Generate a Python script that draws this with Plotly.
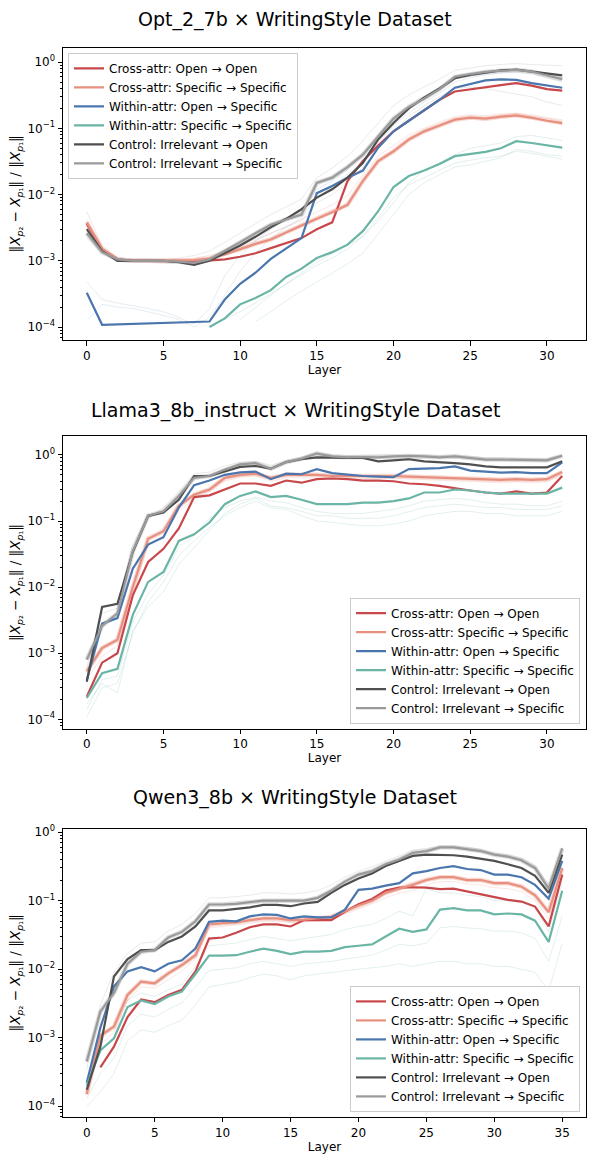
import plotly.graph_objects as go

# ---------------- data ----------------
layers_opt = list(range(32))
layers_llama = list(range(32))
layers_qwen = list(range(36))

series_labels = [
    "Cross-attr: Open → Open",
    "Cross-attr: Specific → Specific",
    "Within-attr: Open → Specific",
    "Within-attr: Specific → Specific",
    "Control: Irrelevant → Open",
    "Control: Irrelevant → Specific",
]
panel_titles = [
    "Opt_2_7b × WritingStyle Dataset",
    "Llama3_8b_instruct × WritingStyle Dataset",
    "Qwen3_8b × WritingStyle Dataset",
]
x_tick_vals = [0, 5, 10, 15, 20, 25, 30]
x_tick_vals_qwen = [0, 5, 10, 15, 20, 25, 30, 35]
y_tick_vals = [1e-4, 1e-3, 1e-2, 1e-1, 1e0]
y_tick_text = ["10<sup>−4</sup>", "10<sup>−3</sup>", "10<sup>−2</sup>", "10<sup>−1</sup>", "10<sup>0</sup>"]

# --- Opt_2_7b ---
opt_cross_open = [3.6e-3, 1.5e-3, 1.05e-3, 1.0e-3, 1.0e-3, 1.0e-3, 0.98e-3, 0.97e-3, 1.0e-3, 1.05e-3, 1.15e-3, 1.3e-3,
                  1.55e-3, 1.85e-3, 2.2e-3, 3.0e-3, 3.8e-3, 1.6e-2, 3.2e-2, 5.5e-2, 9.0e-2, 0.13, 0.19, 0.27, 0.36,
                  0.39, 0.42, 0.45, 0.48, 0.44, 0.39, 0.37]
opt_cross_spec = [3.8e-3, 1.5e-3, 1.05e-3, 1.0e-3, 1.0e-3, 1.0e-3, 1.0e-3, 1.02e-3, 1.08e-3, 1.25e-3, 1.5e-3, 1.8e-3,
                  2.1e-3, 2.7e-3, 3.4e-3, 4.3e-3, 5.4e-3, 7.0e-3, 1.6e-2, 3.2e-2, 4.5e-2, 6.8e-2, 9.0e-2, 0.11, 0.135,
                  0.145, 0.14, 0.15, 0.157, 0.145, 0.13, 0.12]
opt_within_open = [3.3e-4, 1.08e-4, None, None, None, None, None, None, 1.21e-4, 2.6e-4, 4.5e-4, 6.6e-4, 1.07e-3,
                   1.55e-3, 2.2e-3, 1.05e-2, 1.35e-2, 1.8e-2, 2.3e-2, 5.1e-2, 9.0e-2, 0.13, 0.19, 0.27, 0.41, 0.47,
                   0.53, 0.55, 0.54, 0.48, 0.44, 0.41]
opt_within_spec = [None, None, None, None, None, None, None, None, 1.0e-4, 1.35e-4, 2.2e-4, 2.75e-4, 3.6e-4, 5.7e-4,
                   7.6e-4, 1.1e-3, 1.35e-3, 1.75e-3, 2.8e-3, 5.6e-3, 1.3e-2, 1.9e-2, 2.3e-2, 2.9e-2, 3.8e-2, 4.1e-2,
                   4.4e-2, 5.0e-2, 6.4e-2, 6.0e-2, 5.5e-2, 5.1e-2]
opt_ctrl_open = [3.0e-3, 1.4e-3, 1.0e-3, 1.0e-3, 1.0e-3, 1.0e-3, 0.95e-3, 0.87e-3, 1.0e-3, 1.3e-3, 1.7e-3, 2.3e-3,
                 3.2e-3, 4.3e-3, 6.0e-3, 9.0e-3, 1.2e-2, 1.8e-2, 3.0e-2, 6.8e-2, 0.12, 0.2, 0.29, 0.40, 0.57, 0.64,
                 0.70, 0.75, 0.77, 0.72, 0.66, 0.63]
opt_ctrl_spec = [2.6e-3, 1.35e-3, 1.05e-3, 1.0e-3, 1.0e-3, 1.0e-3, 0.97e-3, 0.93e-3, 1.05e-3, 1.4e-3, 1.9e-3, 2.6e-3,
                 3.5e-3, 4.2e-3, 5.0e-3, 1.5e-2, 1.8e-2, 2.6e-2, 4.0e-2, 7.5e-2, 0.14, 0.21, 0.28, 0.39, 0.60, 0.66,
                 0.71, 0.74, 0.76, 0.72, 0.63, 0.55]
opt_bg_gray_a = [5.5e-3, 1.7e-3, 1.1e-3, 1.0e-3, 1.0e-3, 1.05e-3, 1.1e-3, 1.2e-3, 1.4e-3, 1.9e-3, 2.6e-3, 3.6e-3,
                 5.0e-3, 6.5e-3, 8.5e-3, 1.8e-2, 2.5e-2, 3.8e-2, 6.5e-2, 0.12, 0.22, 0.32, 0.42, 0.55, 0.75, 0.82,
                 0.88, 0.92, 0.95, 0.92, 0.90, 0.88]
opt_bg_gray_b = [2.2e-3, 1.3e-3, 1.0e-3, 1.0e-3, 1.0e-3, 1.0e-3, 1.0e-3, 1.0e-3, 1.1e-3, 1.3e-3, 1.6e-3, 2.0e-3,
                 2.6e-3, 3.2e-3, 4.0e-3, 7.5e-3, 1.0e-2, 1.5e-2, 2.6e-2, 5.0e-2, 9.0e-2, 0.15, 0.22, 0.30, 0.40, 0.42,
                 0.40, 0.36, 0.33, 0.30, 0.25, 0.22]
opt_bg_blue_a = [4.8e-4, 2.6e-4, 2.3e-4, 2.1e-4, 1.9e-4, 1.7e-4, 1.4e-4, 1.1e-4, 1.9e-4, 6.0e-4, 1.2e-3, 2.0e-3,
                 3.0e-3, 4.2e-3, 5.5e-3, 1.2e-2, 1.6e-2, 2.4e-2, 3.8e-2, 7.0e-2, 0.13, 0.2, 0.28, 0.38, 0.55, 0.62,
                 0.68, 0.72, 0.74, 0.70, 0.62, 0.58]
opt_bg_blue_b = [1.25e-4, 2.2e-4, 2.0e-4, 1.9e-4, 1.7e-4, 1.5e-4, 1.3e-4, 1.0e-4, 1.4e-4, 3.0e-4, 7.0e-4, 1.3e-3,
                 2.2e-3, 3.2e-3, 4.5e-3, 9.0e-3, 1.3e-2, 2.0e-2, 3.2e-2, 6.0e-2, 0.11, 0.17, 0.25, 0.34, 0.50, 0.58,
                 0.64, 0.68, 0.70, 0.66, 0.58, 0.50]
opt_bg_teal_a = [None, None, None, None, None, None, None, None, None, 1.3e-4, 1.7e-4, 2.3e-4, 3.2e-4, 4.5e-4, 6.2e-4,
                 8.5e-4, 1.1e-3, 1.5e-3, 2.4e-3, 4.5e-3, 9.0e-3, 1.4e-2, 1.8e-2, 2.3e-2, 3.0e-2, 3.3e-2, 3.6e-2,
                 3.8e-2, 4.5e-2, 4.2e-2, 3.8e-2, 3.4e-2]
opt_bg_teal_b = [None, None, None, None, None, None, None, None, None, None, 1.3e-4, 2.0e-4, 3.0e-4, 4.5e-4, 6.5e-4,
                 9.5e-4, 1.3e-3, 1.7e-3, 2.3e-3, 4.0e-3, 7.5e-3, 1.5e-2, 2.3e-2, 3.0e-2, 4.0e-2, 5.0e-2, 5.5e-2,
                 6.0e-2, 7.5e-2, 7.8e-2, 7.2e-2, 6.5e-2]
opt_bg_teal_c = [None, None, None, None, None, None, None, None, None, None, None, 1.2e-4, 1.7e-4, 2.5e-4, 3.5e-4,
                 4.8e-4, 6.5e-4, 9.0e-4, 1.3e-3, 2.5e-3, 5.0e-3, 1.0e-2, 1.5e-2, 2.0e-2, 2.6e-2, 2.8e-2, 3.2e-2,
                 3.6e-2, 4.8e-2, 4.5e-2, 4.0e-2, 3.8e-2]
opt_bg_salmon = [4.2e-3, 1.6e-3, 1.1e-3, 1.0e-3, 1.0e-3, 1.0e-3, 1.05e-3, 1.1e-3, 1.2e-3, 1.4e-3, 1.7e-3, 2.1e-3,
                 2.6e-3, 3.3e-3, 4.2e-3, 5.5e-3, 7.0e-3, 9.5e-3, 2.0e-2, 3.8e-2, 5.5e-2, 8.0e-2, 0.10, 0.125, 0.15,
                 0.16, 0.155, 0.165, 0.17, 0.16, 0.145, 0.135]

# --- Llama3_8b_instruct ---
llama_cross_open = [2.2e-4, 7.2e-4, 1.0e-3, 7.5e-3, 2.4e-2, 3.8e-2, 7.7e-2, 0.23, 0.245, 0.30, 0.37, 0.37, 0.34,
                    0.41, 0.38, 0.43, 0.44, 0.43, 0.41, 0.41, 0.40, 0.37, 0.36, 0.34, 0.31, 0.29, 0.27, 0.26, 0.28,
                    0.26, 0.27, 0.48]
llama_cross_spec = [5.3e-4, 1.2e-3, 1.6e-3, 1.0e-2, 5.4e-2, 7.0e-2, 0.17, 0.25, 0.30, 0.45, 0.50, 0.52, 0.45, 0.50,
                    0.50, 0.50, 0.48, 0.48, 0.49, 0.48, 0.48, 0.47, 0.46, 0.45, 0.44, 0.43, 0.42, 0.42, 0.43, 0.42,
                    0.43, 0.55]
llama_within_open = [3.9e-4, 2.8e-3, 3.4e-3, 1.9e-2, 4.4e-2, 5.7e-2, 0.16, 0.35, 0.41, 0.50, 0.545, 0.56, 0.43,
                     0.52, 0.51, 0.61, 0.53, 0.50, 0.48, 0.47, 0.46, 0.61, 0.62, 0.63, 0.67, 0.58, 0.56, 0.54, 0.55,
                     0.53, 0.53, 0.77]
llama_within_spec = [2.1e-4, 5.0e-4, 5.8e-4, 3.8e-3, 1.2e-2, 1.7e-2, 5.0e-2, 6.3e-2, 9.5e-2, 0.18, 0.24, 0.28, 0.23,
                     0.24, 0.21, 0.18, 0.18, 0.18, 0.19, 0.19, 0.20, 0.22, 0.27, 0.27, 0.30, 0.29, 0.27, 0.26, 0.26,
                     0.26, 0.26, 0.32]
llama_ctrl_open = [3.7e-4, 5.0e-3, 5.6e-3, 3.4e-2, 0.12, 0.135, 0.21, 0.48, 0.48, 0.56, 0.66, 0.68, 0.62, 0.78, 0.86,
                   0.92, 0.90, 0.90, 0.90, 0.80, 0.83, 0.86, 0.80, 0.78, 0.75, 0.72, 0.67, 0.65, 0.65, 0.65, 0.65,
                   0.80]
llama_ctrl_spec = [8.0e-4, 2.6e-3, 4.0e-3, 3.5e-2, 0.12, 0.14, 0.24, 0.45, 0.48, 0.60, 0.72, 0.75, 0.62, 0.78, 0.88,
                   1.05, 0.95, 0.92, 0.93, 0.92, 0.95, 0.97, 0.95, 0.92, 0.95, 0.90, 0.85, 0.85, 0.85, 0.83, 0.83,
                   0.97]
llama_bg_teal_a = [1.1e-4, 3.0e-4, 3.5e-4, 2.0e-3, 6.0e-3, 1.2e-2, 3.0e-2, 5.0e-2, 8.0e-2, 0.12, 0.16, 0.20, 0.16,
                   0.15, 0.12, 0.10, 0.095, 0.09, 0.085, 0.085, 0.09, 0.10, 0.12, 0.13, 0.14, 0.14, 0.13, 0.13, 0.12,
                   0.12, 0.12, 0.14]
llama_bg_teal_b = [1.4e-4, 4.0e-4, 4.5e-4, 3.0e-3, 8.0e-3, 1.5e-2, 4.0e-2, 6.0e-2, 0.11, 0.16, 0.20, 0.23, 0.20,
                   0.19, 0.16, 0.14, 0.13, 0.13, 0.13, 0.14, 0.15, 0.17, 0.20, 0.21, 0.22, 0.21, 0.19, 0.18, 0.18,
                   0.17, 0.17, 0.20]
llama_bg_teal_c = [1.7e-4, 3.5e-4, 2.5e-4, 2.2e-3, 5.0e-3, 8.5e-3, 2.2e-2, 4.0e-2, 7.0e-2, 0.13, 0.18, 0.22, 0.17,
                   0.16, 0.14, 0.12, 0.12, 0.11, 0.11, 0.11, 0.12, 0.14, 0.16, 0.17, 0.18, 0.17, 0.16, 0.16, 0.15,
                   0.15, 0.15, 0.17]
llama_bg_gray = [6.0e-4, 4.0e-3, 4.8e-3, 4.5e-2, 0.11, 0.16, 0.28, 0.52, 0.55, 0.68, 0.78, 0.80, 0.70, 0.82, 0.92,
                 1.1, 1.0, 0.98, 0.99, 1.0, 1.02, 1.03, 1.0, 0.98, 1.0, 0.95, 0.90, 0.90, 0.90, 0.88, 0.87, 1.0]
llama_bg_salmon = [4.0e-4, 9.0e-4, 1.3e-3, 8.0e-3, 4.5e-2, 6.0e-2, 0.14, 0.22, 0.28, 0.40, 0.46, 0.48, 0.40, 0.45,
                   0.45, 0.45, 0.44, 0.44, 0.45, 0.44, 0.44, 0.43, 0.42, 0.41, 0.40, 0.39, 0.38, 0.38, 0.39, 0.38,
                   0.39, 0.50]

# --- Qwen3_8b ---
qwen_cross_open = [None, 3.7e-4, 7.4e-4, 2.0e-3, 3.6e-3, 3.3e-3, 4.2e-3, 5.0e-3, 9.3e-3, 2.8e-2, 2.9e-2, 3.4e-2,
                   4.1e-2, 4.5e-2, 4.5e-2, 4.2e-2, 5.2e-2, 5.2e-2, 5.2e-2, 6.9e-2, 8.9e-2, 0.106, 0.14, 0.155, 0.157,
                   0.155, 0.147, 0.15, 0.136, 0.125, 0.112, 0.103, 0.097, 0.082, 4.2e-2, 0.24]
qwen_cross_spec = [1.5e-4, 1.07e-3, 1.45e-3, 4.2e-3, 6.6e-3, 6.2e-3, 8.7e-3, 1.15e-2, 1.6e-2, 4.5e-2, 4.7e-2, 4.8e-2,
                   5.2e-2, 5.5e-2, 5.5e-2, 5.2e-2, 5.3e-2, 5.5e-2, 5.8e-2, 7.0e-2, 8.5e-2, 0.10, 0.13, 0.15, 0.17,
                   0.20, 0.22, 0.22, 0.20, 0.20, 0.18, 0.18, 0.16, 0.12, 6.8e-2, 0.30]
qwen_within_open = [2.2e-4, 1.4e-3, 5.6e-3, 9.3e-3, 1.07e-2, 9.3e-3, 1.2e-2, 1.35e-2, 2.0e-2, 4.9e-2, 5.1e-2, 5.0e-2,
                    5.9e-2, 6.3e-2, 6.2e-2, 5.5e-2, 5.9e-2, 5.7e-2, 5.7e-2, 7.4e-2, 0.144, 0.15, 0.166, 0.18, 0.25,
                    0.27, 0.30, 0.32, 0.29, 0.28, 0.24, 0.24, 0.22, 0.17, 0.107, 0.38]
qwen_within_spec = [2.0e-4, 6.5e-4, 9.8e-4, 2.8e-3, 3.5e-3, 3.1e-3, 4.0e-3, 4.7e-3, 8.5e-3, 1.58e-2, 1.58e-2, 1.6e-2,
                    1.8e-2, 2.0e-2, 1.85e-2, 1.66e-2, 1.8e-2, 1.8e-2, 1.85e-2, 2.1e-2, 2.2e-2, 2.3e-2, 3.0e-2, 3.9e-2,
                    3.5e-2, 3.8e-2, 7.4e-2, 7.8e-2, 7.2e-2, 7.2e-2, 6.3e-2, 6.5e-2, 6.3e-2, 5.1e-2, 2.5e-2, 0.14]
qwen_ctrl_open = [1.74e-4, 7.4e-4, 7.8e-3, 1.4e-2, 1.9e-2, 1.9e-2, 2.5e-2, 3.0e-2, 4.2e-2, 7.2e-2, 7.2e-2, 7.5e-2,
                  8.0e-2, 8.7e-2, 8.7e-2, 8.3e-2, 9.1e-2, 9.6e-2, 0.13, 0.17, 0.21, 0.25, 0.32, 0.38, 0.45, 0.47, 0.47,
                  0.46, 0.44, 0.41, 0.38, 0.34, 0.30, 0.23, 0.13, 0.47]
qwen_ctrl_spec = [4.5e-4, 2.4e-3, 4.5e-3, 1.2e-2, 1.8e-2, 1.9e-2, 2.9e-2, 3.5e-2, 5.0e-2, 8.8e-2, 8.8e-2, 9.0e-2,
                  9.5e-2, 0.10, 0.10, 0.10, 0.10, 0.11, 0.14, 0.19, 0.24, 0.27, 0.34, 0.40, 0.50, 0.53, 0.60, 0.60,
                  0.57, 0.53, 0.47, 0.44, 0.39, 0.30, 0.15, 0.58]
qwen_bg_teal_a = [1.0e-4, 1.6e-4, 3.0e-4, 9.0e-4, 1.3e-3, 1.2e-3, 1.5e-3, 1.8e-3, 3.0e-3, 5.5e-3, 6.0e-3, 6.5e-3,
                  7.5e-3, 8.5e-3, 8.0e-3, 7.0e-3, 8.0e-3, 8.5e-3, 9.0e-3, 9.5e-3, 1.0e-2, 1.05e-2, 1.1e-2, 1.2e-2,
                  1.1e-2, 1.2e-2, 1.3e-2, 1.3e-2, 1.2e-2, 1.2e-2, 1.1e-2, 1.1e-2, 1.0e-2, 9.0e-3, 4.8e-3, 2.4e-2]
qwen_bg_teal_b = [1.3e-4, 3.0e-4, 5.0e-4, 1.5e-3, 2.2e-3, 2.0e-3, 2.6e-3, 3.2e-3, 5.5e-3, 9.5e-3, 1.0e-2, 1.05e-2,
                  1.2e-2, 1.3e-2, 1.2e-2, 1.1e-2, 1.2e-2, 1.25e-2, 1.3e-2, 1.4e-2, 1.5e-2, 1.6e-2, 1.9e-2, 2.3e-2,
                  2.2e-2, 2.4e-2, 4.0e-2, 4.2e-2, 4.0e-2, 3.9e-2, 3.6e-2, 3.6e-2, 3.4e-2, 2.8e-2, 1.3e-2, 6.0e-2]
qwen_bg_teal_c = [2.5e-4, 9.0e-4, 1.5e-3, 3.5e-3, 4.5e-3, 4.0e-3, 5.0e-3, 6.0e-3, 1.1e-2, 2.2e-2, 2.3e-2, 2.4e-2,
                  2.7e-2, 3.0e-2, 2.8e-2, 2.6e-2, 2.8e-2, 3.0e-2, 3.2e-2, 3.8e-2, 4.2e-2, 4.5e-2, 5.5e-2, 7.0e-2,
                  6.0e-2, 0.15, 0.13, 0.13, 0.12, 0.115, 0.10, 0.10, 0.095, 0.08, 3.5e-2, 0.18]
qwen_bg_gray = [3.5e-4, 3.0e-3, 9.0e-3, 1.7e-2, 2.4e-2, 2.5e-2, 3.6e-2, 4.5e-2, 6.5e-2, 0.11, 0.11, 0.115, 0.12,
                0.13, 0.13, 0.125, 0.13, 0.14, 0.17, 0.22, 0.27, 0.31, 0.38, 0.45, 0.55, 0.58, 0.62, 0.62, 0.60, 0.56,
                0.50, 0.47, 0.42, 0.33, 0.17, 0.60]
qwen_bg_salmon = [1.8e-4, 8.0e-4, 1.2e-3, 3.5e-3, 5.5e-3, 5.3e-3, 7.0e-3, 9.5e-3, 1.4e-2, 4.0e-2, 4.2e-2, 4.4e-2,
                  4.7e-2, 5.0e-2, 5.0e-2, 4.8e-2, 4.9e-2, 5.0e-2, 5.3e-2, 6.3e-2, 7.5e-2, 9.0e-2, 0.11, 0.13, 0.14,
                  0.17, 0.19, 0.19, 0.175, 0.17, 0.155, 0.15, 0.135, 0.10, 5.5e-2, 0.25]

# ---------------- style ----------------
W, H = 590, 1161
FONT = "DejaVu Sans"
main_colors = ["#c8474b", "#e8907f", "#4a76ad", "#6ab5a6", "#4f4f4f", "#9a9a9a"]
faint = {
    "gray": "rgba(150,150,150,0.22)",
    "blue": "rgba(74,118,173,0.16)",
    "teal": "rgba(106,181,166,0.22)",
    "salmon": "rgba(232,144,127,0.25)",
}
band = {1: "rgba(232,144,127,0.35)", 5: "rgba(154,154,154,0.35)"}


def px_x(p):
    return p / W


def px_y(p):
    return 1 - p / H


panels = [
    dict(x=layers_opt,
         main=[opt_cross_open, opt_cross_spec, opt_within_open, opt_within_spec, opt_ctrl_open, opt_ctrl_spec],
         bg=[(opt_bg_gray_a, "gray"), (opt_bg_gray_b, "gray"), (opt_bg_blue_a, "blue"), (opt_bg_blue_b, "blue"),
             (opt_bg_teal_a, "teal"), (opt_bg_teal_b, "teal"), (opt_bg_teal_c, "teal"),
             (opt_bg_salmon, "salmon")],
         ax="", legend="legend", xrange=[-1.55, 32.55], xticks=x_tick_vals, yrange=[-4.2, 0.22],
         top=42.7, bottom=336.7, title_y=15),
    dict(x=layers_llama,
         main=[llama_cross_open, llama_cross_spec, llama_within_open, llama_within_spec, llama_ctrl_open,
               llama_ctrl_spec],
         bg=[(llama_bg_gray, "gray"), (llama_bg_teal_a, "teal"), (llama_bg_teal_b, "teal"),
             (llama_bg_teal_c, "teal"), (llama_bg_salmon, "salmon")],
         ax="2", legend="legend2", xrange=[-1.55, 32.55], xticks=x_tick_vals, yrange=[-4.14, 0.28],
         top=433.3, bottom=726.7, title_y=407),
    dict(x=layers_qwen,
         main=[qwen_cross_open, qwen_cross_spec, qwen_within_open, qwen_within_spec, qwen_ctrl_open,
               qwen_ctrl_spec],
         bg=[(qwen_bg_gray, "gray"), (qwen_bg_teal_a, "teal"), (qwen_bg_teal_b, "teal"),
             (qwen_bg_teal_c, "teal"), (qwen_bg_salmon, "salmon")],
         ax="3", legend="legend3", xrange=[-1.75, 36.75], xticks=x_tick_vals_qwen, yrange=[-4.156, 0.05],
         top=827.3, bottom=1116.7, title_y=796),
]

minor_vals = [m * 10.0 ** k for k in range(-5, 1) for m in range(2, 10)]

ytitle = ("‖<i>X</i><sub><i>p</i>₂</sub> − <i>X</i><sub><i>p</i>₁</sub>‖ / "
          "‖<i>X</i><sub><i>p</i>₁</sub>‖")

fig = go.Figure()
layout = dict(
    width=W, height=H,
    margin=dict(l=0, r=0, t=0, b=0),
    paper_bgcolor="white", plot_bgcolor="white",
    font=dict(family=FONT, size=12, color="black"),
    showlegend=True,
    annotations=[],
)

for i, p in enumerate(panels):
    xa = "x" + p["ax"]
    ya = "y" + p["ax"]
    for ys, key in p["bg"]:
        fig.add_trace(go.Scatter(x=p["x"], y=ys, mode="lines", xaxis=xa, yaxis=ya,
                                 line=dict(color=faint[key], width=0.9), showlegend=False,
                                 connectgaps=False, hoverinfo="skip"))
    for j, ys in enumerate(p["main"]):
        if j in band:
            fig.add_trace(go.Scatter(x=p["x"], y=ys, mode="lines", xaxis=xa, yaxis=ya,
                                     line=dict(color=band[j], width=4.5), showlegend=False,
                                     hoverinfo="skip"))
    for j, ys in enumerate(p["main"]):
        fig.add_trace(go.Scatter(x=p["x"], y=ys, mode="lines", xaxis=xa, yaxis=ya,
                                 name=series_labels[j], legend=p["legend"],
                                 line=dict(color=main_colors[j], width=2.2),
                                 connectgaps=True))

    xkey = "xaxis" + p["ax"]
    ykey = "yaxis" + p["ax"]
    layout[xkey] = dict(
        domain=[px_x(63), px_x(586)], anchor=ya, range=p["xrange"],
        tickmode="array", tickvals=p["xticks"], ticks="outside", ticklen=4.5, tickwidth=1,
        tickcolor="black", showline=True, linecolor="black", linewidth=1, mirror=True,
        showgrid=False, zeroline=False, tickfont=dict(size=12),
        title=dict(text="Layer", font=dict(size=12), standoff=3),
    )
    layout[ykey] = dict(
        domain=[px_y(p["bottom"]), px_y(p["top"])], anchor=xa, type="log", range=p["yrange"],
        tickmode="array", tickvals=y_tick_vals, ticktext=y_tick_text, ticks="outside", ticklen=4.5,
        tickwidth=1, tickcolor="black", showline=True, linecolor="black", linewidth=1, mirror=True,
        showgrid=False, zeroline=False, tickfont=dict(size=12),
        minor=dict(tickmode="array", tickvals=minor_vals, ticks="outside", ticklen=2.5,
                   tickwidth=0.8, tickcolor="black", showgrid=False),
        title=dict(text=ytitle, font=dict(size=13.5), standoff=3),
    )
    layout["annotations"].append(dict(
        text=panel_titles[i], x=0.5, y=px_y(p["title_y"]), xref="paper", yref="paper",
        xanchor="center", yanchor="middle", showarrow=False, font=dict(size=19, family=FONT)))

legend_common = dict(bgcolor="rgba(255,255,255,0.85)", bordercolor="#cccccc", borderwidth=1,
                     font=dict(size=12, family=FONT), tracegroupgap=0, itemwidth=30)
layout["legend"] = dict(legend_common, x=px_x(68), y=px_y(48), xanchor="left", yanchor="top")
layout["legend2"] = dict(legend_common, x=px_x(580), y=px_y(721.7), xanchor="right", yanchor="bottom")
layout["legend3"] = dict(legend_common, x=px_x(580), y=px_y(1111.7), xanchor="right", yanchor="bottom")

fig.update_layout(**layout)
fig.write_html("out.html")
